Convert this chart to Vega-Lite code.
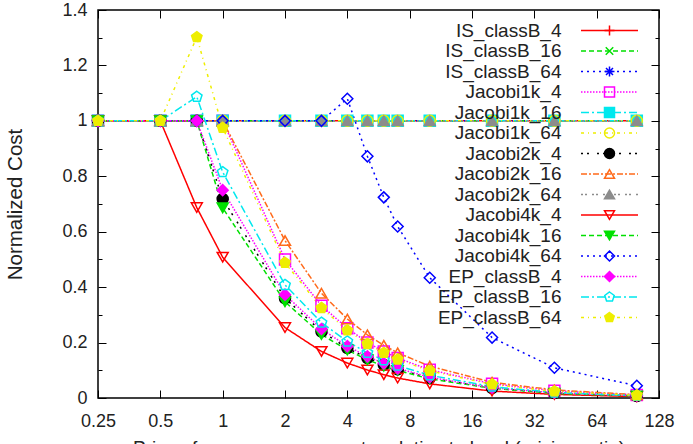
{
  "$schema": "https://vega.github.io/schema/vega-lite/v6.json",
  "width": 561,
  "height": 388,
  "autosize": {"type": "none"},
  "padding": {"left": 98, "top": 10, "right": 34, "bottom": 46},
  "background": "white",
  "config": {
    "view": {"stroke": "#000", "strokeWidth": 1.5},
    "font": "Liberation Sans",
    "axis": {
      "labelFont": "Liberation Sans", "labelFontSize": 18, "labelColor": "#222",
      "titleFont": "Liberation Sans", "titleFontSize": 19, "titleColor": "#222", "titleFontWeight": "normal",
      "tickColor": "#000", "tickWidth": 1, "domain": false, "grid": false
    }
  },
  "data": {"values": [
    {"s":"IS_classB_4","x":0.25,"y":1},{"s":"IS_classB_4","x":0.5,"y":1},{"s":"IS_classB_4","x":0.75,"y":1},{"s":"IS_classB_4","x":1,"y":1},{"s":"IS_classB_4","x":2,"y":1},{"s":"IS_classB_4","x":3,"y":1},{"s":"IS_classB_4","x":4,"y":1},{"s":"IS_classB_4","x":5,"y":1},{"s":"IS_classB_4","x":6,"y":1},{"s":"IS_classB_4","x":7,"y":1},{"s":"IS_classB_4","x":10,"y":1},{"s":"IS_classB_4","x":20,"y":1},{"s":"IS_classB_4","x":40,"y":1},{"s":"IS_classB_4","x":100,"y":1},
    {"s":"IS_classB_16","x":0.25,"y":1},{"s":"IS_classB_16","x":0.5,"y":1},{"s":"IS_classB_16","x":0.75,"y":1},{"s":"IS_classB_16","x":1,"y":1},{"s":"IS_classB_16","x":2,"y":1},{"s":"IS_classB_16","x":3,"y":1},{"s":"IS_classB_16","x":4,"y":1},{"s":"IS_classB_16","x":5,"y":1},{"s":"IS_classB_16","x":6,"y":1},{"s":"IS_classB_16","x":7,"y":1},{"s":"IS_classB_16","x":10,"y":1},{"s":"IS_classB_16","x":20,"y":1},{"s":"IS_classB_16","x":40,"y":1},{"s":"IS_classB_16","x":100,"y":1},
    {"s":"IS_classB_64","x":0.25,"y":1},{"s":"IS_classB_64","x":0.5,"y":1},{"s":"IS_classB_64","x":0.75,"y":1},{"s":"IS_classB_64","x":1,"y":1},{"s":"IS_classB_64","x":2,"y":1},{"s":"IS_classB_64","x":3,"y":1},{"s":"IS_classB_64","x":4,"y":1},{"s":"IS_classB_64","x":5,"y":1},{"s":"IS_classB_64","x":6,"y":1},{"s":"IS_classB_64","x":7,"y":1},{"s":"IS_classB_64","x":10,"y":1},{"s":"IS_classB_64","x":20,"y":1},{"s":"IS_classB_64","x":40,"y":1},{"s":"IS_classB_64","x":100,"y":1},
    {"s":"Jacobi1k_4","x":0.25,"y":1},{"s":"Jacobi1k_4","x":0.5,"y":1},{"s":"Jacobi1k_4","x":0.75,"y":1},{"s":"Jacobi1k_4","x":1,"y":1},{"s":"Jacobi1k_4","x":2,"y":0.5},{"s":"Jacobi1k_4","x":3,"y":0.333},{"s":"Jacobi1k_4","x":4,"y":0.252},{"s":"Jacobi1k_4","x":5,"y":0.2},{"s":"Jacobi1k_4","x":6,"y":0.168},{"s":"Jacobi1k_4","x":7,"y":0.144},{"s":"Jacobi1k_4","x":10,"y":0.102},{"s":"Jacobi1k_4","x":20,"y":0.051},{"s":"Jacobi1k_4","x":40,"y":0.026},{"s":"Jacobi1k_4","x":100,"y":0.011},
    {"s":"Jacobi1k_16","x":0.25,"y":1},{"s":"Jacobi1k_16","x":0.5,"y":1},{"s":"Jacobi1k_16","x":0.75,"y":1},{"s":"Jacobi1k_16","x":1,"y":1},{"s":"Jacobi1k_16","x":2,"y":1},{"s":"Jacobi1k_16","x":3,"y":1},{"s":"Jacobi1k_16","x":4,"y":1},{"s":"Jacobi1k_16","x":5,"y":1},{"s":"Jacobi1k_16","x":6,"y":1},{"s":"Jacobi1k_16","x":7,"y":1},{"s":"Jacobi1k_16","x":10,"y":1},{"s":"Jacobi1k_16","x":20,"y":1},{"s":"Jacobi1k_16","x":40,"y":1},{"s":"Jacobi1k_16","x":100,"y":1},
    {"s":"Jacobi1k_64","x":0.25,"y":1},{"s":"Jacobi1k_64","x":0.5,"y":1},{"s":"Jacobi1k_64","x":0.75,"y":1},{"s":"Jacobi1k_64","x":1,"y":1},{"s":"Jacobi1k_64","x":2,"y":1},{"s":"Jacobi1k_64","x":3,"y":1},{"s":"Jacobi1k_64","x":4,"y":1},{"s":"Jacobi1k_64","x":5,"y":1},{"s":"Jacobi1k_64","x":6,"y":1},{"s":"Jacobi1k_64","x":7,"y":1},{"s":"Jacobi1k_64","x":10,"y":1},{"s":"Jacobi1k_64","x":20,"y":1},{"s":"Jacobi1k_64","x":40,"y":1},{"s":"Jacobi1k_64","x":100,"y":1},
    {"s":"Jacobi2k_4","x":0.25,"y":1},{"s":"Jacobi2k_4","x":0.5,"y":1},{"s":"Jacobi2k_4","x":0.75,"y":1},{"s":"Jacobi2k_4","x":1,"y":0.718},{"s":"Jacobi2k_4","x":2,"y":0.36},{"s":"Jacobi2k_4","x":3,"y":0.24},{"s":"Jacobi2k_4","x":4,"y":0.18},{"s":"Jacobi2k_4","x":5,"y":0.144},{"s":"Jacobi2k_4","x":6,"y":0.12},{"s":"Jacobi2k_4","x":7,"y":0.103},{"s":"Jacobi2k_4","x":10,"y":0.072},{"s":"Jacobi2k_4","x":20,"y":0.036},{"s":"Jacobi2k_4","x":40,"y":0.018},{"s":"Jacobi2k_4","x":100,"y":0.007},
    {"s":"Jacobi2k_16","x":0.25,"y":1},{"s":"Jacobi2k_16","x":0.5,"y":1},{"s":"Jacobi2k_16","x":0.75,"y":1},{"s":"Jacobi2k_16","x":1,"y":1},{"s":"Jacobi2k_16","x":2,"y":0.568},{"s":"Jacobi2k_16","x":3,"y":0.378},{"s":"Jacobi2k_16","x":4,"y":0.285},{"s":"Jacobi2k_16","x":5,"y":0.228},{"s":"Jacobi2k_16","x":6,"y":0.19},{"s":"Jacobi2k_16","x":7,"y":0.163},{"s":"Jacobi2k_16","x":10,"y":0.115},{"s":"Jacobi2k_16","x":20,"y":0.057},{"s":"Jacobi2k_16","x":40,"y":0.029},{"s":"Jacobi2k_16","x":100,"y":0.012},
    {"s":"Jacobi2k_64","x":0.25,"y":1},{"s":"Jacobi2k_64","x":0.5,"y":1},{"s":"Jacobi2k_64","x":0.75,"y":1},{"s":"Jacobi2k_64","x":1,"y":1},{"s":"Jacobi2k_64","x":2,"y":1},{"s":"Jacobi2k_64","x":3,"y":1},{"s":"Jacobi2k_64","x":4,"y":1},{"s":"Jacobi2k_64","x":5,"y":1},{"s":"Jacobi2k_64","x":6,"y":1},{"s":"Jacobi2k_64","x":7,"y":1},{"s":"Jacobi2k_64","x":10,"y":1},{"s":"Jacobi2k_64","x":20,"y":1},{"s":"Jacobi2k_64","x":40,"y":1},{"s":"Jacobi2k_64","x":100,"y":1},
    {"s":"Jacobi4k_4","x":0.25,"y":1},{"s":"Jacobi4k_4","x":0.5,"y":1},{"s":"Jacobi4k_4","x":0.75,"y":0.687},{"s":"Jacobi4k_4","x":1,"y":0.508},{"s":"Jacobi4k_4","x":2,"y":0.254},{"s":"Jacobi4k_4","x":3,"y":0.168},{"s":"Jacobi4k_4","x":4,"y":0.126},{"s":"Jacobi4k_4","x":5,"y":0.101},{"s":"Jacobi4k_4","x":6,"y":0.084},{"s":"Jacobi4k_4","x":7,"y":0.072},{"s":"Jacobi4k_4","x":10,"y":0.051},{"s":"Jacobi4k_4","x":20,"y":0.025},{"s":"Jacobi4k_4","x":40,"y":0.013},{"s":"Jacobi4k_4","x":100,"y":0.005},
    {"s":"Jacobi4k_16","x":0.25,"y":1},{"s":"Jacobi4k_16","x":0.5,"y":1},{"s":"Jacobi4k_16","x":0.75,"y":1},{"s":"Jacobi4k_16","x":1,"y":0.686},{"s":"Jacobi4k_16","x":2,"y":0.347},{"s":"Jacobi4k_16","x":3,"y":0.229},{"s":"Jacobi4k_16","x":4,"y":0.173},{"s":"Jacobi4k_16","x":5,"y":0.138},{"s":"Jacobi4k_16","x":6,"y":0.115},{"s":"Jacobi4k_16","x":7,"y":0.099},{"s":"Jacobi4k_16","x":10,"y":0.069},{"s":"Jacobi4k_16","x":20,"y":0.035},{"s":"Jacobi4k_16","x":40,"y":0.017},{"s":"Jacobi4k_16","x":100,"y":0.007},
    {"s":"Jacobi4k_64","x":0.25,"y":1},{"s":"Jacobi4k_64","x":0.5,"y":1},{"s":"Jacobi4k_64","x":0.75,"y":1},{"s":"Jacobi4k_64","x":1,"y":1},{"s":"Jacobi4k_64","x":2,"y":1},{"s":"Jacobi4k_64","x":3,"y":1},{"s":"Jacobi4k_64","x":4,"y":1.08},{"s":"Jacobi4k_64","x":5,"y":0.872},{"s":"Jacobi4k_64","x":6,"y":0.724},{"s":"Jacobi4k_64","x":7,"y":0.619},{"s":"Jacobi4k_64","x":10,"y":0.434},{"s":"Jacobi4k_64","x":20,"y":0.218},{"s":"Jacobi4k_64","x":40,"y":0.109},{"s":"Jacobi4k_64","x":100,"y":0.044},
    {"s":"EP_classB_4","x":0.25,"y":1},{"s":"EP_classB_4","x":0.5,"y":1},{"s":"EP_classB_4","x":0.75,"y":1},{"s":"EP_classB_4","x":1,"y":0.75},{"s":"EP_classB_4","x":2,"y":0.373},{"s":"EP_classB_4","x":3,"y":0.249},{"s":"EP_classB_4","x":4,"y":0.187},{"s":"EP_classB_4","x":5,"y":0.15},{"s":"EP_classB_4","x":6,"y":0.125},{"s":"EP_classB_4","x":7,"y":0.107},{"s":"EP_classB_4","x":10,"y":0.075},{"s":"EP_classB_4","x":20,"y":0.037},{"s":"EP_classB_4","x":40,"y":0.019},{"s":"EP_classB_4","x":100,"y":0.008},
    {"s":"EP_classB_16","x":0.25,"y":1},{"s":"EP_classB_16","x":0.5,"y":1},{"s":"EP_classB_16","x":0.75,"y":1.087},{"s":"EP_classB_16","x":1,"y":0.815},{"s":"EP_classB_16","x":2,"y":0.408},{"s":"EP_classB_16","x":3,"y":0.272},{"s":"EP_classB_16","x":4,"y":0.204},{"s":"EP_classB_16","x":5,"y":0.163},{"s":"EP_classB_16","x":6,"y":0.136},{"s":"EP_classB_16","x":7,"y":0.117},{"s":"EP_classB_16","x":10,"y":0.082},{"s":"EP_classB_16","x":20,"y":0.041},{"s":"EP_classB_16","x":40,"y":0.02},{"s":"EP_classB_16","x":100,"y":0.008},
    {"s":"EP_classB_64","x":0.25,"y":1},{"s":"EP_classB_64","x":0.5,"y":1},{"s":"EP_classB_64","x":0.75,"y":1.302},{"s":"EP_classB_64","x":1,"y":0.975},{"s":"EP_classB_64","x":2,"y":0.488},{"s":"EP_classB_64","x":3,"y":0.325},{"s":"EP_classB_64","x":4,"y":0.244},{"s":"EP_classB_64","x":5,"y":0.195},{"s":"EP_classB_64","x":6,"y":0.163},{"s":"EP_classB_64","x":7,"y":0.139},{"s":"EP_classB_64","x":10,"y":0.098},{"s":"EP_classB_64","x":20,"y":0.049},{"s":"EP_classB_64","x":40,"y":0.024},{"s":"EP_classB_64","x":100,"y":0.01}
  ]},
  "layer": [
    {
      "mark": {"type": "line", "strokeWidth": 1.5},
      "encoding": {
        "x": {"field": "x", "type": "quantitative",
          "scale": {"type": "log", "base": 2, "domain": [0.25, 128], "nice": false},
          "axis": {"orient": "bottom", "values": [0.25,0.5,1,2,4,8,16,32,64,128], "format": "~g",
            "tickSize": -8, "labelPadding": 22, "labelFlush": false, "labelOverlap": false,
            "title": "Price of resources on remote relative to local (pricing ratio)", "titlePadding": 8}},
        "y": {"field": "y", "type": "quantitative",
          "scale": {"domain": [0, 1.4], "nice": false, "zero": false},
          "axis": {"orient": "left", "values": [0,0.2,0.4,0.6,0.8,1,1.2,1.4], "format": "~g",
            "tickSize": -8, "labelPadding": 19, "labelFlush": false, "labelOverlap": false,
            "title": "Normalized Cost", "titleFontSize": 20.5, "titlePadding": 36}},
        "color": {"field": "s", "type": "nominal",
          "scale": {
            "domain": ["IS_classB_4","IS_classB_16","IS_classB_64","Jacobi1k_4","Jacobi1k_16","Jacobi1k_64","Jacobi2k_4","Jacobi2k_16","Jacobi2k_64","Jacobi4k_4","Jacobi4k_16","Jacobi4k_64","EP_classB_4","EP_classB_16","EP_classB_64"],
            "range": ["#ff0000","#00e000","#0000ff","#ff00ff","#00e8ee","#eeee00","#000000","#ff6a1a","#8c8c8c","#ff0000","#00e000","#0000ff","#ff00ff","#00e8ee","#eeee00"]},
          "legend": {"orient": "none", "legendX": 502, "legendY": 11, "title": null, "padding": 0,
            "symbolType": "M-5.7,0L5.7,0", "symbolSize": 100, "symbolStrokeWidth": 1.5, "symbolOffset": 0,
            "labelAlign": "right", "labelOffset": -57.5, "labelFont": "Liberation Sans", "labelFontSize": 19, "labelColor": "#222",
            "rowPadding": 0.5}},
        "strokeDash": {"field": "s", "type": "nominal",
          "scale": {
            "domain": ["IS_classB_4","IS_classB_16","IS_classB_64","Jacobi1k_4","Jacobi1k_16","Jacobi1k_64","Jacobi2k_4","Jacobi2k_16","Jacobi2k_64","Jacobi4k_4","Jacobi4k_16","Jacobi4k_64","EP_classB_4","EP_classB_16","EP_classB_64"],
            "range": [[1,0],[5,3],[2,4],[1.5,1.5],[8,3,2,3],[3,4,1,4],[2,4,2,8],[6,2,2,2],[2,2,2,5],[1,0],[5,3],[2,4],[1.5,1.5],[8,3,2,3],[3,4,1,4]]},
          "legend": {"orient": "none", "legendX": 502, "legendY": 11, "title": null, "padding": 0,
            "symbolType": "M-5.7,0L5.7,0", "symbolSize": 100, "symbolStrokeWidth": 1.5, "symbolOffset": 0,
            "labelAlign": "right", "labelOffset": -57.5, "labelFont": "Liberation Sans", "labelFontSize": 19, "labelColor": "#222",
            "rowPadding": 0.5}}
      }
    },
    {
      "transform": [{"filter": "datum.y >= 0"}],
      "mark": {"type": "point", "strokeWidth": 1.5, "opacity": 1, "size": 121},
      "encoding": {
        "x": {"field": "x", "type": "quantitative",
          "axis": {"orient": "top", "values": [0.25,0.5,1,2,4,8,16,32,64,128], "tickSize": -8, "labels": false, "title": null}},
        "y": {"field": "y", "type": "quantitative",
          "axis": {"orient": "right", "values": [0,0.2,0.4,0.6,0.8,1,1.2,1.4], "tickSize": -8, "labels": false, "title": null}},
        "shape": {"field": "s", "type": "nominal",
          "scale": {
            "domain": ["IS_classB_4","IS_classB_16","IS_classB_64","Jacobi1k_4","Jacobi1k_16","Jacobi1k_64","Jacobi2k_4","Jacobi2k_16","Jacobi2k_64","Jacobi4k_4","Jacobi4k_16","Jacobi4k_64","EP_classB_4","EP_classB_16","EP_classB_64","other"],
            "range": ["M-1,0L1,0M0,-1L0,1","M-0.75,-0.75L0.75,0.75M-0.75,0.75L0.75,-0.75","M-1,0L1,0M0,-1L0,1M-0.7,-0.7L0.7,0.7M-0.7,0.7L0.7,-0.7","square","square","circle","circle","triangle-up","triangle-up","triangle-down","triangle-down","diamond","diamond","M0,-1L0.951,-0.309L0.588,0.809L-0.588,0.809L-0.951,-0.309Z","M0,-1L0.951,-0.309L0.588,0.809L-0.588,0.809L-0.951,-0.309Z","circle"]},
          "legend": {"orient": "none", "legendX": 502, "legendY": 11, "title": null, "padding": 0,
            "symbolSize": 100, "symbolStrokeWidth": 1.5, "symbolOffset": 0,
            "labelAlign": "right", "labelOffset": -57.5, "labelOpacity": 0, "labelFontSize": 19, "rowPadding": 0.5,
            "values": ["IS_classB_4","IS_classB_16","IS_classB_64","Jacobi1k_4","Jacobi1k_16","Jacobi1k_64","Jacobi2k_4","Jacobi2k_16","Jacobi2k_64","Jacobi4k_4","Jacobi4k_16","Jacobi4k_64","EP_classB_4","EP_classB_16","EP_classB_64"]}},
        "stroke": {"field": "s", "type": "nominal",
          "scale": {
            "domain": ["IS_classB_4","IS_classB_16","IS_classB_64","Jacobi1k_4","Jacobi1k_16","Jacobi1k_64","Jacobi2k_4","Jacobi2k_16","Jacobi2k_64","Jacobi4k_4","Jacobi4k_16","Jacobi4k_64","EP_classB_4","EP_classB_16","EP_classB_64","other"],
            "range": ["#ff0000","#00e000","#0000ff","#ff00ff","#00e8ee","#eeee00","#000000","#ff6a1a","#8c8c8c","#ff0000","#00e000","#0000ff","#ff00ff","#00e8ee","#eeee00","#000000"]},
          "legend": {"orient": "none", "legendX": 502, "legendY": 11, "title": null, "padding": 0,
            "symbolSize": 100, "symbolStrokeWidth": 1.5, "symbolOffset": 0,
            "labelAlign": "right", "labelOffset": -57.5, "labelOpacity": 0, "labelFontSize": 19, "rowPadding": 0.5,
            "values": ["IS_classB_4","IS_classB_16","IS_classB_64","Jacobi1k_4","Jacobi1k_16","Jacobi1k_64","Jacobi2k_4","Jacobi2k_16","Jacobi2k_64","Jacobi4k_4","Jacobi4k_16","Jacobi4k_64","EP_classB_4","EP_classB_16","EP_classB_64"]}},
        "fill": {"field": "s", "type": "nominal",
          "scale": {
            "domain": ["IS_classB_4","IS_classB_16","IS_classB_64","Jacobi1k_4","Jacobi1k_16","Jacobi1k_64","Jacobi2k_4","Jacobi2k_16","Jacobi2k_64","Jacobi4k_4","Jacobi4k_16","Jacobi4k_64","EP_classB_4","EP_classB_16","EP_classB_64","other"],
            "range": ["transparent","transparent","transparent","transparent","#00e8ee","transparent","#000000","transparent","#8c8c8c","transparent","#00e000","transparent","#ff00ff","transparent","#eeee00","transparent"]},
          "legend": {"orient": "none", "legendX": 502, "legendY": 11, "title": null, "padding": 0,
            "symbolSize": 100, "symbolStrokeWidth": 1.5, "symbolOffset": 0,
            "labelAlign": "right", "labelOffset": -57.5, "labelOpacity": 0, "labelFontSize": 19, "rowPadding": 0.5,
            "values": ["IS_classB_4","IS_classB_16","IS_classB_64","Jacobi1k_4","Jacobi1k_16","Jacobi1k_64","Jacobi2k_4","Jacobi2k_16","Jacobi2k_64","Jacobi4k_4","Jacobi4k_16","Jacobi4k_64","EP_classB_4","EP_classB_16","EP_classB_64"]}}
      }
    },
    {
      "mark": {"type": "point", "opacity": 0},
      "encoding": {
        "x": {"field": "x", "type": "quantitative", "axis": null},
        "y": {"field": "y", "type": "quantitative",
          "axis": {"orient": "left", "values": [0.1,0.3,0.5,0.7,0.9,1.1,1.3], "tickSize": -4, "labels": false, "title": null}}
      }
    },
    {
      "mark": {"type": "point", "opacity": 0},
      "encoding": {
        "x": {"field": "x", "type": "quantitative", "axis": null},
        "y": {"field": "y", "type": "quantitative",
          "axis": {"orient": "right", "values": [0.1,0.3,0.5,0.7,0.9,1.1,1.3], "tickSize": -4, "labels": false, "title": null}}
      }
    }
  ],
  "resolve": {"axis": {"x": "independent", "y": "independent"}}
}
